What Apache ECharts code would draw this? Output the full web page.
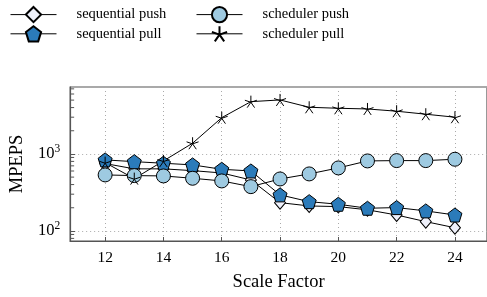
<!DOCTYPE html>
<html>
<head>
<meta charset="utf-8">
<script src="https://cdn.jsdelivr.net/npm/echarts@6/dist/echarts.min.js"></script>
<style>
  html, body { margin: 0; padding: 0; background: #fff; }
  #chart { width: 487px; height: 297px; }
</style>
</head>
<body>
<div id="chart"></div>
<script>
const scaleFactors = [12, 13, 14, 15, 16, 17, 18, 19, 20, 21, 22, 23, 24];
const sequentialPush = [750, 640, 640, 607, 566, 459, 233, 211, 207, 188, 161, 132, 110];
const sequentialPull = [836, 794, 757, 720, 632, 601, 294, 240, 222, 197, 201, 182, 161];
const schedulerPush = [534, 523, 518, 483, 446, 376, 473, 550, 658, 811, 819, 819, 853];
const schedulerPull = [771, 478, 811, 1377, 2957, 4775, 5025, 4036, 3917, 3837, 3587, 3280, 2998];
const minorTicks = [80, 90, 200, 300, 400, 500, 600, 700, 800, 900, 2000, 3000, 4000, 5000, 6000, 7000];

const xMin = 10.8, xMax = 25.1;
const font = 'Liberation Serif';
const frame = '#555';

const pentagon = 'path://M0,-1L0.951,-0.309L0.588,0.809L-0.588,0.809L-0.951,-0.309Z';
const asterisk = 'path://M0,0L0,-1M0,0L0.951,-0.309M0,0L0.588,0.809M0,0L-0.588,0.809M0,0L-0.951,-0.309';

const pairs = (ys) => scaleFactors.map((x, i) => [x, ys[i]]);

function lineSeries(name, ys, symbol, size, fill) {
  return {
    name, type: 'line', data: pairs(ys),
    symbol, symbolSize: size, showAllSymbol: true,
    lineStyle: { color: '#000', width: 1 },
    itemStyle: { color: fill, borderColor: '#000', borderWidth: 1 },
    emphasis: { disabled: true }
  };
}

const legendBase = {
  orient: 'vertical', top: 1, itemWidth: 46, itemHeight: 19, itemGap: 2,
  lineStyle: { width: 1, color: '#000' },
  textStyle: { fontFamily: font, fontSize: 14.5, color: '#000', padding: [0, 0, 0, 15] }
};

const chart = echarts.init(document.getElementById('chart'));
chart.setOption({
  animation: false,
  textStyle: { fontFamily: font },
  grid: { left: 65, top: 87, right: -1, bottom: 56, show: true, borderColor: frame, borderWidth: 1.2 },
  legend: [
    Object.assign({ left: 5, data: ['sequential push', 'sequential pull'] }, legendBase),
    Object.assign({ left: 191, data: ['scheduler push', 'scheduler pull'] }, legendBase)
  ],
  xAxis: {
    type: 'value', min: xMin, max: xMax, splitNumber: 7,
    name: 'Scale Factor', nameLocation: 'middle', nameGap: 32,
    nameTextStyle: { fontFamily: font, fontSize: 18.5, color: '#000' },
    axisLine: { lineStyle: { color: frame, width: 1.2 } },
    axisTick: { inside: true, length: 4, lineStyle: { color: frame } },
    axisLabel: { fontFamily: font, fontSize: 15.5, color: '#000', margin: 9, showMinLabel: false, showMaxLabel: false },
    splitLine: { lineStyle: { color: '#aaa', type: [1, 3], width: 1 } }
  },
  yAxis: {
    type: 'log', logBase: 10, min: 74, max: 7400,
    name: 'MPEPS', nameLocation: 'middle', nameGap: 42, nameRotate: 90,
    nameTextStyle: { fontFamily: font, fontSize: 18.5, color: '#000' },
    axisLine: { lineStyle: { color: frame, width: 1.2 } },
    axisTick: { inside: true, length: 5, lineStyle: { color: frame } },
    axisLabel: {
      fontFamily: font, color: '#000', margin: 10,
      showMinLabel: false, showMaxLabel: false,
      formatter: (v) => '{b|10}{s|' + Math.round(Math.log10(v)) + '}',
      rich: {
        b: { fontFamily: font, fontSize: 16.5, color: '#000' },
        s: { fontFamily: font, fontSize: 11.5, color: '#000', padding: [0, 0, 9, 0] }
      }
    },
    splitLine: { lineStyle: { color: '#aaa', type: [1, 3], width: 1 } }
  },
  series: [
    {
      type: 'custom', name: 'minor', silent: true, clip: false,
      data: minorTicks.map((v) => [xMin, v]),
      renderItem: (params, api) => {
        const p = api.coord([api.value(0), api.value(1)]);
        return { type: 'line', shape: { x1: p[0], y1: p[1], x2: p[0] + 4, y2: p[1] },
                 style: { stroke: frame, lineWidth: 1 } };
      }
    },
    lineSeries('sequential push', sequentialPush, 'diamond', [11, 13], '#eef0fa'),
    lineSeries('sequential pull', sequentialPull, pentagon, 14, '#2b7bba'),
    lineSeries('scheduler push', schedulerPush, 'circle', 14, '#9ecae1'),
    lineSeries('scheduler pull', schedulerPull, asterisk, 12, 'rgba(0,0,0,0)')
  ]
});
</script>
</body>
</html>
